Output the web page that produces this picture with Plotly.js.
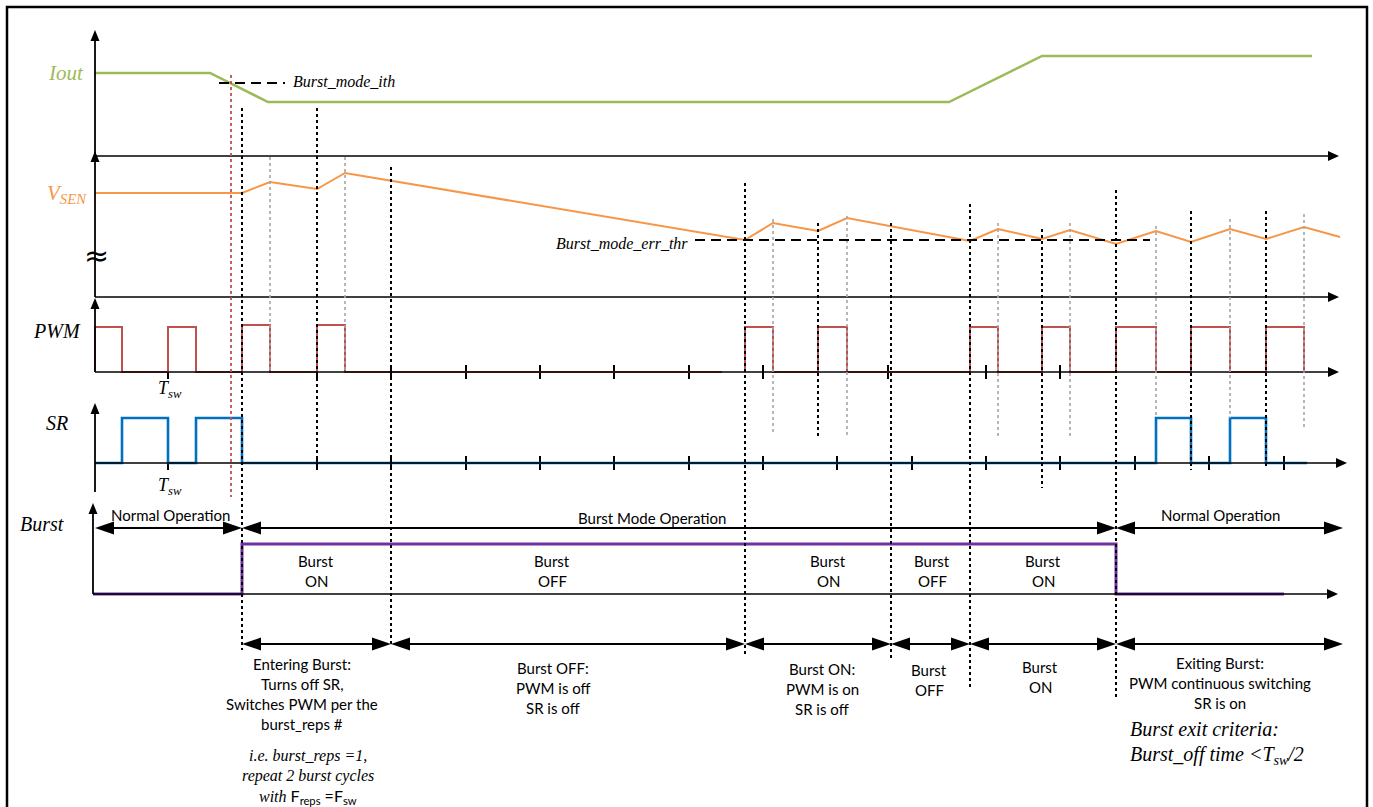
<!DOCTYPE html>
<html><head><meta charset="utf-8">
<script src="https://cdn.plot.ly/plotly-3.0.1.min.js"></script>
<style>html,body{margin:0;padding:0;background:#fff}#chart{width:1373px;height:807px}</style>
</head><body><div id="chart"></div>
<script>
// ================= DATA (time in diagram units) =================
const ioutT = [95, 210, 268, 949, 1042, 1312];
const ioutV = [83, 83, 54, 54, 100, 100];
const burstModeIth = 73;
const ithSpan = [219, 285];

const vsenT = [95, 242, 270, 317, 345, 745, 773, 818, 847, 970, 998, 1042, 1070, 1116, 1156, 1191, 1230, 1266, 1304, 1340];
const vsenV = [104, 104, 115, 108, 124, 57, 74, 66, 79, 56, 68, 58, 67, 53, 66, 55, 68, 58, 70, 60];
const burstModeErrThr = 57;
const errThrSpan = [695, 1150];

const pwmRise = [95, 168, 242, 317, 745, 818, 970, 1042, 1116, 1191, 1266];
const pwmFall = [122, 196, 270, 345, 773, 847, 998, 1070, 1156, 1230, 1304];
const pwmPulseH = [45, 45, 47, 47, 45, 45, 45, 45, 45, 45, 45];
const pwmLowGap = [722, 745];
const srRise = [122, 196, 1156, 1230];
const srFall = [168, 242, 1191, 1266];
const srStart = 95, srStop = 1307;

const burstEdges = [93, 242, 1116, 1284];
const burstLevels = [0, 1, 0];

const pwmTicks = [168, 317, 391, 466, 540, 614, 689, 763, 888, 986, 1060];
const srTicks = [168, 317, 391, 466, 540, 614, 689, 763, 837, 912, 986, 1060, 1135, 1209, 1284];

const blackMarkers = [242, 317, 391, 745, 818, 891, 970, 1042, 1116, 1191, 1266];
const grayMarkers = [270, 345, 773, 847, 998, 1070, 1156, 1230, 1304];
const ithCrossT = 231;

const modeSpans = [[95, 242], [242, 1116], [1116, 1343]];
const modeLabels = ['Normal Operation', 'Burst Mode Operation', 'Normal Operation'];
const stateCenters = [316, 552, 828, 932, 1043];
const stateLabels = [['Burst', 'ON'], ['Burst', 'OFF'], ['Burst', 'ON'], ['Burst', 'OFF'], ['Burst', 'ON']];
const phaseSpans = [[242, 391], [391, 745], [745, 891], [891, 970], [970, 1116], [1116, 1343]];
const phaseTexts = [
  ['Entering Burst:', 'Turns off SR,', 'Switches PWM per the', 'burst_reps #'],
  ['Burst OFF:', 'PWM is off', 'SR is off'],
  ['Burst ON:', 'PWM is on', 'SR is off'],
  ['Burst', 'OFF'],
  ['Burst', 'ON'],
  ['Exiting Burst:', 'PWM continuous switching', 'SR is on']
];

// ================= LAYOUT GEOMETRY =================
const ROW = {iout: 156, vsen: 297, pwm: 372, sr: 463, burst: 594};
const HSR = 45, HBURST = 50;
const AX0 = 95;
const C = {green: '#9bbb59', orange: '#f79646', red: '#c0504d', blue: '#0070c0', purple: '#7030a0', gray: '#a6a6a6'};
const SERIF = 'Liberation Serif, Times New Roman, serif';
const SANS = 'Lato, Carlito, Calibri, sans-serif';
const SANS_SIZE = 15;

const traces = [];
const shapes = [];
const ann = [];

function line(x0, y0, x1, y1, color, width, dash) {
  shapes.push({type: 'line', xref: 'x', yref: 'y', x0, y0, x1, y1, line: {color, width, dash: dash || 'solid'}});
}
function tri(tipx, tipy, dir, len, half) {
  let p;
  if (dir === 'r') p = `M${tipx},${tipy} L${tipx - len},${tipy - half} L${tipx - len},${tipy + half} Z`;
  if (dir === 'l') p = `M${tipx},${tipy} L${tipx + len},${tipy - half} L${tipx + len},${tipy + half} Z`;
  if (dir === 'u') p = `M${tipx},${tipy} L${tipx - half},${tipy + len} L${tipx + half},${tipy + len} Z`;
  shapes.push({type: 'path', xref: 'x', yref: 'y', path: p, fillcolor: '#000', line: {color: '#000', width: 0}});
}
function text(x, y, t, size, family, color, xanchor) {
  ann.push({x, y, xref: 'x', yref: 'y', text: t, showarrow: false, xanchor: xanchor || 'center', yanchor: 'middle',
    font: {size, family, color: color || '#000'}, borderpad: 0});
}

// frame
shapes.push({type: 'rect', xref: 'x', yref: 'y', x0: 7, y0: 7, x1: 1367, y1: 815, line: {color: '#000', width: 2.5}});

// axes
const axes = [
  {row: 'iout', top: 30, bottom: 156, end: 1339},
  {row: 'vsen', top: 151, bottom: 297, end: 1339},
  {row: 'pwm', top: 298, bottom: 372, end: 1339},
  {row: 'sr', top: 403, bottom: 492, end: 1347},
  {row: 'burst', top: 503, bottom: 594, end: 1338}
];
axes.forEach(a => {
  const x = a.row === 'burst' ? 93 : AX0;
  line(x, a.top + 8, x, a.bottom, '#000', 1.8);
  tri(x, a.top, 'u', 11, 4.5);
  line(x, ROW[a.row], a.end - 8, ROW[a.row], '#000', 1.5);
  tri(a.end, ROW[a.row], 'r', 11, 5);
});

// ticks
function ticks(arr, base) {
  const xs = [], ys = [];
  arr.forEach(t => { xs.push(t, t, null); ys.push(base - 7, base + 7, null); });
  traces.push({x: xs, y: ys, mode: 'lines', line: {color: '#000', width: 2}, hoverinfo: 'skip'});
}

// dotted markers
const blackExt = {242: [108, 650], 317: [108, 470], 391: [167, 645], 745: [183, 655], 818: [223, 437], 891: [223, 660],
  970: [204, 688], 1042: [229, 488], 1116: [190, 700], 1191: [211, 470], 1266: [211, 468]};
const grayExt = {270: [157, 371], 345: [157, 371], 773: [219, 433], 847: [216, 438], 998: [223, 438], 1070: [223, 438],
  1156: [226, 418], 1230: [219, 418], 1304: [214, 430]};
grayMarkers.forEach(t => line(t, grayExt[t][0], t, grayExt[t][1], C.gray, 1.6, 'dot'));

// Iout
traces.push({x: ioutT, y: ioutV.map(v => ROW.iout - v), mode: 'lines', line: {color: C.green, width: 2.5}, hoverinfo: 'skip'});
line(ithSpan[0], ROW.iout - burstModeIth, ithSpan[1], ROW.iout - burstModeIth, '#000', 2, '10px,6px');
// VSEN
traces.push({x: vsenT, y: vsenV.map(v => ROW.vsen - v), mode: 'lines', line: {color: C.orange, width: 2}, hoverinfo: 'skip'});
line(errThrSpan[0], ROW.vsen - burstModeErrThr, errThrSpan[1], ROW.vsen - burstModeErrThr, '#000', 2, '10px,6px');

ticks(pwmTicks, ROW.pwm);
ticks(srTicks, ROW.sr);

// PWM (low stretch before the gap is red; the gap shows the black axis)
(function () {
  const xs = [], ys = [];
  pwmRise.forEach((r, i) => {
    if (i > 0 && r === pwmLowGap[1]) {
      xs.push(pwmLowGap[0], null, r);
      ys.push(ROW.pwm, null, ROW.pwm);
    }
    xs.push(r, r, pwmFall[i], pwmFall[i]);
    ys.push(ROW.pwm, ROW.pwm - pwmPulseH[i], ROW.pwm - pwmPulseH[i], ROW.pwm);
  });
  traces.push({x: xs, y: ys, mode: 'lines', line: {color: C.red, width: 2}, connectgaps: false, hoverinfo: 'skip'});
})();
// SR
(function () {
  const xs = [srStart], ys = [ROW.sr];
  srRise.forEach((r, i) => {
    xs.push(r, r, srFall[i], srFall[i]);
    ys.push(ROW.sr, ROW.sr - HSR, ROW.sr - HSR, ROW.sr);
  });
  xs.push(srStop); ys.push(ROW.sr);
  traces.push({x: xs, y: ys, mode: 'lines', line: {color: C.blue, width: 2.6}, hoverinfo: 'skip'});
})();
// Burst
(function () {
  const xs = [], ys = [];
  burstLevels.forEach((lv, i) => {
    xs.push(burstEdges[i], burstEdges[i + 1]);
    ys.push(ROW.burst - lv * HBURST, ROW.burst - lv * HBURST);
  });
  traces.push({x: xs, y: ys, mode: 'lines', line: {color: C.purple, width: 3}, hoverinfo: 'skip'});
})();

blackMarkers.forEach(t => line(t, blackExt[t][0], t, blackExt[t][1], '#000', 2, 'dot'));
line(ithCrossT, 75, ithCrossT, 497, C.red, 1.8, 'dot');

// double arrows
function dblArrow(x0, x1, y, leftHead, rightHead) {
  line(x0 + (leftHead ? 10 : 0), y, x1 - (rightHead ? 10 : 0), y, '#000', 1.8);
  if (leftHead) tri(x0, y, 'l', 19, 6.5);
  if (rightHead) tri(x1, y, 'r', 19, 6.5);
}
modeSpans.forEach(s => dblArrow(s[0], s[1], 528, true, true));
phaseSpans.forEach(s => dblArrow(s[0], s[1], 644, true, true));

// ---------- text ----------
text(66, 73, '<i>Iout</i>', 21, SERIF, C.green);
text(67, 194, '<i>V<sub>SEN</sub></i>', 21, SERIF, C.orange);
text(57, 331, '<i>PWM</i>', 20, SERIF);
text(57, 423, '<i>SR</i>', 20, SERIF);
text(42, 524, '<i>Burst</i>', 20, SERIF);
text(170, 389, '<i>T<sub>sw</sub></i>', 18, SERIF);
text(170, 486, '<i>T<sub>sw</sub></i>', 18, SERIF);
text(292, 81, '<i>Burst_mode_ith</i>', 16, SERIF, '#000', 'left');
text(689, 243, '<i>Burst_mode_err_thr</i>', 16, SERIF, '#000', 'right');
text(96, 255, '≈', 30, 'DejaVu Sans', '#000');

const modeY = [515, 518, 515];
const modeX = [170, 652, 1220];
modeLabels.forEach((m, i) => text(modeX[i], modeY[i], m, SANS_SIZE, SANS));
stateLabels.forEach((ls, i) => ls.forEach((l, j) => text(stateCenters[i], 561 + 20 * j, l, SANS_SIZE, SANS)));

const phaseX = [302, 553, 822, 929, 1040, 1220];
const phaseY = [664, 668, 669, 670, 667, 663];
phaseTexts.forEach((ls, i) => ls.forEach((l, j) => text(phaseX[i], phaseY[i] + 20 * j, l, SANS_SIZE, SANS)));

text(308, 756, '<i>i.e. burst_reps =1,</i>', 16, SERIF);
text(308, 776, '<i>repeat 2 burst cycles</i>', 16, SERIF);
text(308, 796, '<i>with</i> <span style="font-family:Lato">F<sub>reps</sub> =F<sub>sw</sub></span>', 16, SERIF);
text(1129, 729, '<i>Burst exit criteria:</i>', 20, SERIF, '#000', 'left');
text(1129, 755, '<i>Burst_off time &lt;T<sub>sw</sub>/2</i>', 20, SERIF, '#000', 'left');

Plotly.newPlot('chart', traces, {
  width: 1373, height: 807,
  margin: {l: 0, r: 0, t: 0, b: 0},
  paper_bgcolor: '#fff', plot_bgcolor: '#fff',
  showlegend: false,
  xaxis: {range: [0, 1373], visible: false, fixedrange: true},
  yaxis: {range: [807, 0], visible: false, fixedrange: true},
  shapes, annotations: ann
}, {staticPlot: true});
</script></body></html>
